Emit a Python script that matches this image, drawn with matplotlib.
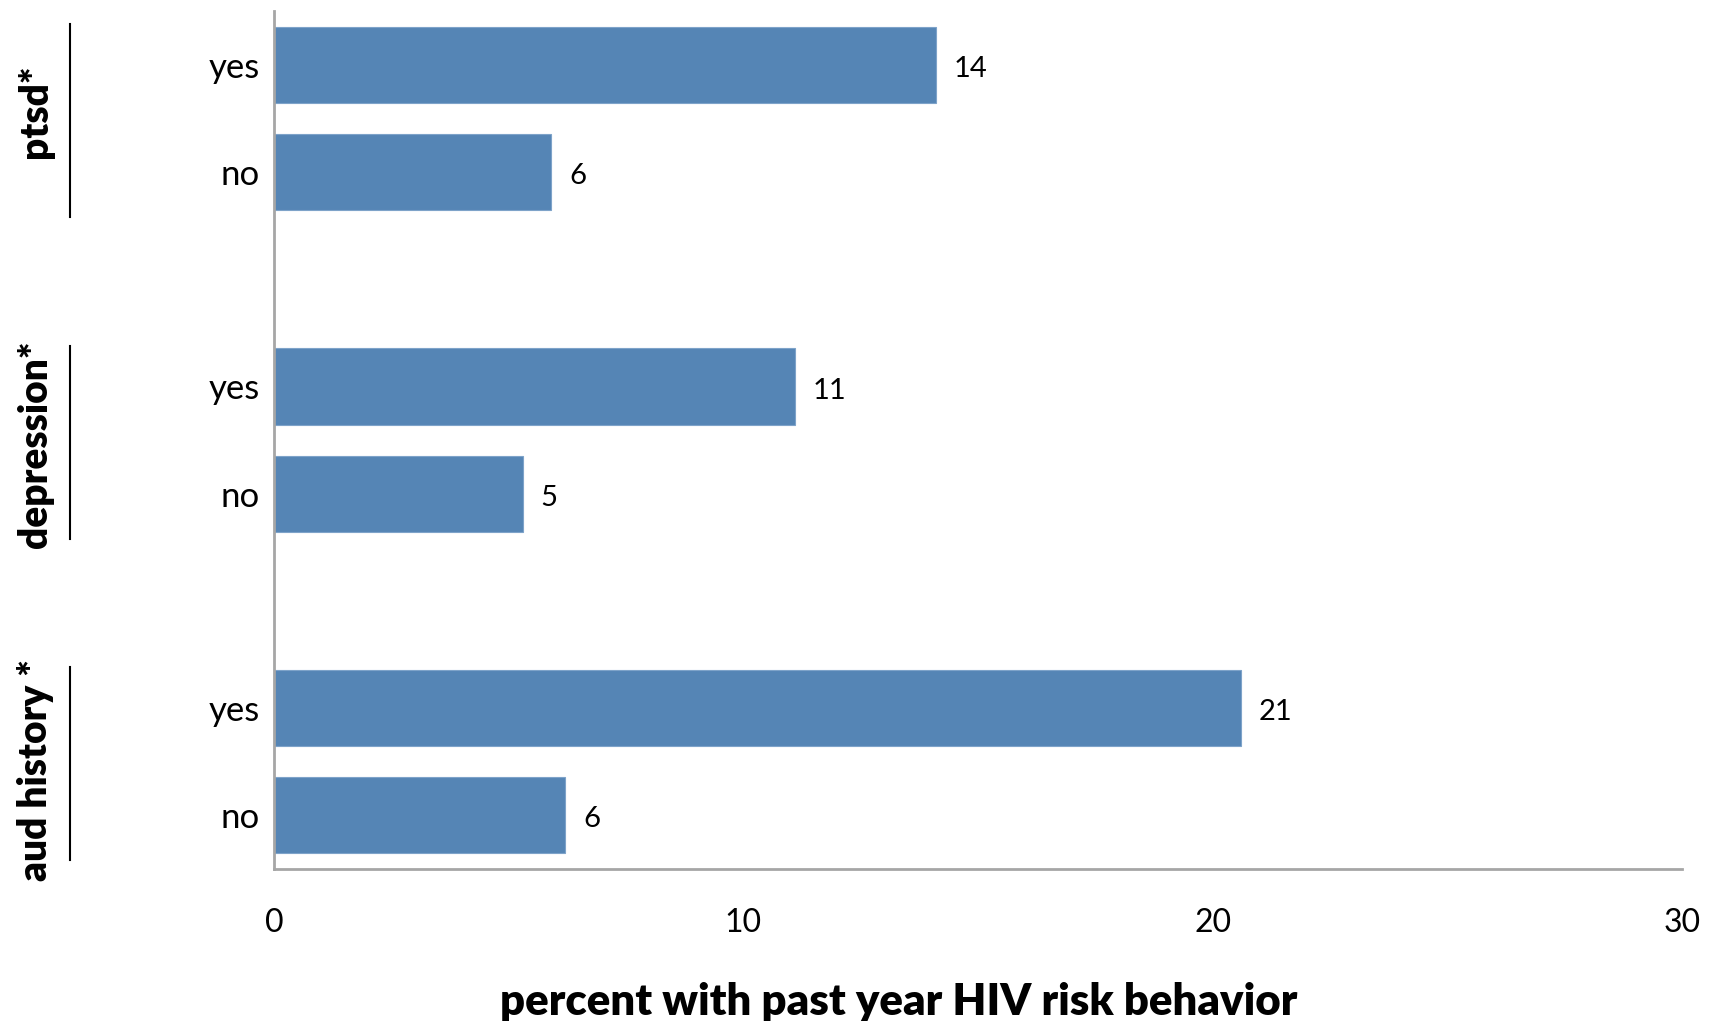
import numpy as np
import matplotlib.pyplot as plt
import matplotlib.transforms as mtransforms

groups = ["ptsd*", "depression*", "aud history *"]
levels = ["yes", "no"]
values = [14.1, 5.9, 11.1, 5.3, 20.6, 6.2]
value_labels = ["14", "6", "11", "5", "21", "6"]
x_ticks = [0, 10, 20, 30]

plt.rcParams['font.family'] = ['Lato', 'DejaVu Sans']

fig = plt.figure(figsize=(17.12, 10.21), dpi=100)
ax = fig.add_axes([0.160, 0.149, 0.8225, 0.840])

# slot positions: yes, no, gap, yes, no, gap, yes, no
pos = []
for g in range(len(groups)):
    pos += [3 * g, 3 * g + 1]
pos = np.array(pos)

ax.barh(pos, values, height=0.71, color="#5585b5", edgecolor="#7ea3c9", linewidth=0.8)
for p, v, lab in zip(pos, values, value_labels):
    ax.annotate(lab, (v, p), xytext=(13, -3), textcoords="offset points",
                va="center", ha="left", fontsize=21)

ax.set_ylim(7.5, -0.5)
ax.set_xlim(0, 30)
ax.set_yticks(pos)
ax.set_yticklabels(levels * len(groups), fontsize=25)
ax.set_xticks(x_ticks)
ax.set_xticklabels([str(t) for t in x_ticks], fontsize=23)
ax.tick_params(axis="both", length=0)
ax.tick_params(axis="x", pad=28)
ax.tick_params(axis="y", pad=10)
for s in ["top", "right"]:
    ax.spines[s].set_visible(False)
for s in ["left", "bottom"]:
    ax.spines[s].set_color("#a6a6a6")
    ax.spines[s].set_linewidth(2)

ax.set_xlabel("percent with past year HIV risk behavior", fontsize=31.5,
              fontweight="heavy")
ax.xaxis.set_label_coords(0.444, -0.132)

# group labels with bracket lines on the left
trans = mtransforms.blended_transform_factory(fig.transFigure, ax.transData)
label_shift = [-0.07, 0.04, 0.08]
for g, name in enumerate(groups):
    y0, y1 = 3 * g, 3 * g + 1
    ax.plot([0.041, 0.041], [y0 - 0.38, y1 + 0.42], transform=trans,
            color="black", lw=1.5, clip_on=False)
    ax.text(0.021, (y0 + y1) / 2 + label_shift[g], name, transform=trans,
            rotation=90, ha="center", va="center", fontsize=28,
            fontweight="heavy")

fig.savefig("out.png", dpi=100)
